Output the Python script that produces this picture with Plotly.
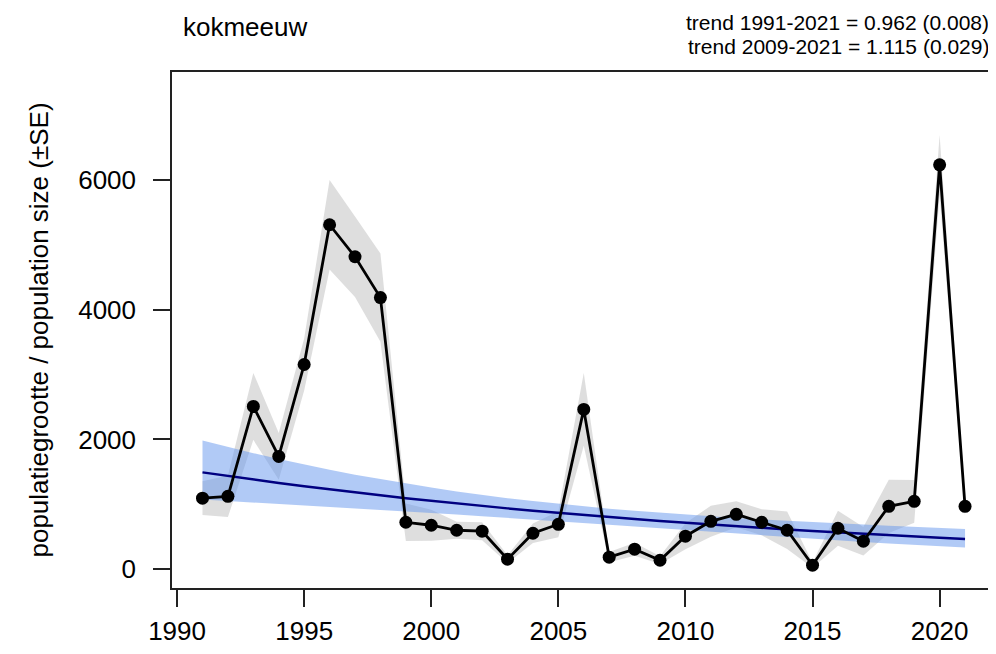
import plotly.graph_objects as go

years = list(range(1991, 2022))
population = [1095, 1123, 2508, 1738, 3154, 5308, 4815, 4185, 723, 677,
              600, 585, 154, 554, 692, 2462, 185, 308, 138, 508,
              738, 846, 723, 600, 62, 631, 431, 969, 1046, 6231, 969]
se = [260, 320, 515, 360, 400, 690, 620, 680, 290, 240,
      130, 140, 60, 150, 200, 560, 80, 100, 60, 200,
      240, 200, 200, 290, 40, 270, 220, 410, 330, 460, 150]
trend = [1492, 1435, 1381, 1328, 1278, 1229, 1183, 1138, 1094, 1053,
         1013, 974, 937, 902, 867, 834, 803, 772, 743, 715,
         688, 661, 636, 612, 589, 566, 545, 524, 504, 485, 467]
trend_upper = [1984, 1881, 1787, 1697, 1612, 1531, 1456, 1386, 1319, 1257,
               1199, 1145, 1095, 1050, 1007, 967, 932, 899, 869, 841,
               815, 789, 767, 745, 725, 705, 687, 670, 652, 636, 621]
trend_lower = [1074, 1052, 1029, 1005, 983, 959, 937, 914, 889, 867,
               843, 817, 793, 767, 740, 713, 686, 656, 629, 600,
               572, 544, 517, 491, 466, 441, 419, 397, 375, 356, 336]
x_ticks = [1990, 1995, 2000, 2005, 2010, 2015, 2020]
y_ticks = [0, 2000, 4000, 6000]

title_text = "kokmeeuw"
trend_lines = ["trend 1991-2021 = 0.962 (0.008)", "trend 2009-2021 = 1.115 (0.029)"]
y_title = "populatiegrootte / population size (±SE)"

upper = [v + s for v, s in zip(population, se)]
lower = [v - s for v, s in zip(population, se)]

FONT = "Liberation Sans, Arial, sans-serif"
# the page body has an 8px margin, so the figure is drawn 8px in from the corner
OFF = 8
W, H = 996 - OFF, 654 - OFF
L, T = 172 - OFF, 72 - OFF
R = W - (993 - OFF)
B = H - (588 - OFF)
PW = W - L - R
PH = H - T - B

fig = go.Figure()
# SE band (grey)
fig.add_trace(go.Scatter(x=years, y=upper, mode="lines", line=dict(width=0),
                         hoverinfo="skip", showlegend=False))
fig.add_trace(go.Scatter(x=years, y=lower, mode="lines", line=dict(width=0),
                         fill="tonexty", fillcolor="rgba(190,190,190,0.5)",
                         hoverinfo="skip", showlegend=False))
# trend band (blue)
fig.add_trace(go.Scatter(x=years, y=trend_upper, mode="lines", line=dict(width=0),
                         hoverinfo="skip", showlegend=False))
fig.add_trace(go.Scatter(x=years, y=trend_lower, mode="lines", line=dict(width=0),
                         fill="tonexty", fillcolor="rgba(100,149,237,0.5)",
                         hoverinfo="skip", showlegend=False))
# trend line
fig.add_trace(go.Scatter(x=years, y=trend, mode="lines",
                         line=dict(color="#000080", width=2.5), showlegend=False))
# data
fig.add_trace(go.Scatter(x=years, y=population, mode="lines+markers",
                         line=dict(color="black", width=2.8),
                         marker=dict(color="black", size=13), showlegend=False))

fig.update_layout(
    width=W, height=H,
    margin=dict(l=L, r=R, t=T, b=B, autoexpand=False),
    paper_bgcolor="white", plot_bgcolor="white",
    font=dict(family=FONT, size=26, color="black"),
    xaxis=dict(range=[1989.8, 2022.1], tickvals=x_ticks, ticks="outside",
               ticklen=17, tickwidth=1.5, tickcolor="#222",
               showline=True, linecolor="#222", linewidth=1.5, mirror=True,
               showgrid=False, zeroline=False, ticklabelstandoff=2,
               automargin=False, tickfont=dict(size=26)),
    yaxis=dict(range=[-290, 7662], tickvals=y_ticks, ticks="outside",
               ticklen=17, tickwidth=1.5, tickcolor="#222",
               showline=True, linecolor="#222", linewidth=1.5, mirror=True,
               showgrid=False, zeroline=False, ticklabelstandoff=12,
               automargin=False, tickfont=dict(size=26),
               title=dict(text=y_title, font=dict(size=26), standoff=22)),
    annotations=[
        dict(text=title_text, xref="paper", yref="paper", x=(181 - 172) / PW,
             y=1 + (72 - 27) / PH, xanchor="left", yanchor="middle",
             showarrow=False, font=dict(size=26)),
        dict(text=trend_lines[0], xref="paper", yref="paper", x=(991 - 172) / PW,
             y=1 + (72 - 22) / PH, xanchor="right", yanchor="middle",
             showarrow=False, font=dict(size=21)),
        dict(text=trend_lines[1], xref="paper", yref="paper", x=(991 - 172) / PW,
             y=1 + (72 - 47) / PH, xanchor="right", yanchor="middle",
             showarrow=False, font=dict(size=21)),
    ],
)

fig.write_html("out.html")
